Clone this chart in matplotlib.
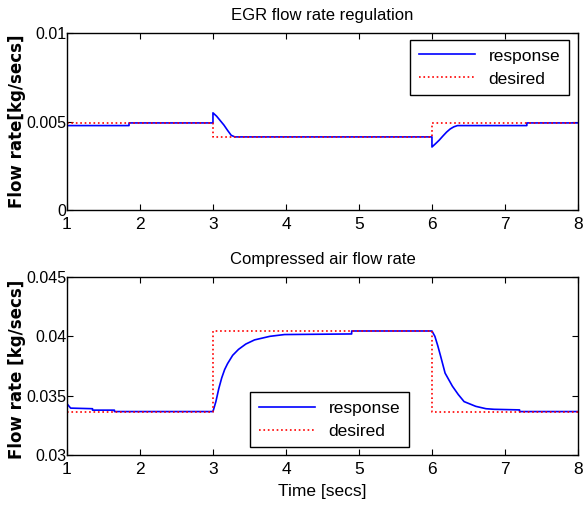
import matplotlib
matplotlib.use("Agg")
import matplotlib.pyplot as plt
from matplotlib import font_manager

names = {f.name for f in font_manager.fontManager.ttflist}
narrow = 'Liberation Sans Narrow' if 'Liberation Sans Narrow' in names else 'Liberation Sans'

# ---- data ----
egr_resp_t = [1.0, 1.85, 1.85, 3.0, 3.0, 3.05, 3.1, 3.15, 3.2, 3.25, 3.3, 6.0, 6.0, 6.05, 6.1,
              6.15, 6.2, 6.25, 6.3, 6.35, 7.3, 7.3, 8.0]
egr_resp_v = [0.00477, 0.00477, 0.00492, 0.00492, 0.00549, 0.00530, 0.00505, 0.00480, 0.00450,
              0.00422, 0.00413, 0.00413, 0.00356, 0.00375, 0.00395, 0.00418, 0.00440, 0.00458,
              0.00470, 0.00477, 0.00477, 0.00492, 0.00492]
egr_des_t = [1.0, 3.0, 3.0, 6.0, 6.0, 8.0]
egr_des_v = [0.00492, 0.00492, 0.00413, 0.00413, 0.00492, 0.00492]

air_resp_t = [1.0, 1.05, 1.35, 1.35, 1.65, 1.65, 3.0, 3.04, 3.08, 3.12, 3.16, 3.2, 3.27, 3.35,
              3.45, 3.57, 3.78, 3.98, 4.9, 4.9, 6.0, 6.04, 6.08, 6.12, 6.18, 6.28, 6.36, 6.44,
              6.6, 6.74, 6.85, 7.2, 7.2, 8.0]
air_resp_v = [0.03432, 0.03395, 0.03390, 0.03378, 0.03378, 0.03366, 0.03366, 0.03450, 0.03560,
              0.03650, 0.03720, 0.03770, 0.03840, 0.03890, 0.03935, 0.03970, 0.04000, 0.04015,
              0.04020, 0.04045, 0.04045, 0.04000, 0.03920, 0.03830, 0.03690, 0.03580, 0.03510,
              0.03450, 0.03410, 0.03390, 0.03385, 0.03380, 0.03366, 0.03366]
air_des_t = [1.0, 3.0, 3.0, 6.0, 6.0, 8.0]
air_des_v = [0.03366, 0.03366, 0.04045, 0.04045, 0.03366, 0.03366]

xticks = [1, 2, 3, 4, 5, 6, 7, 8]
egr_yticks = [0, 0.005, 0.01]
egr_ylabels = ['0', '0.005', '0.01']
air_yticks = [0.03, 0.035, 0.04, 0.045]
air_ylabels = ['0.03', '0.035', '0.04', '0.045']

fig = plt.figure(figsize=(5.88, 5.14), dpi=100)
ax1 = fig.add_axes([0.1139, 0.5914, 0.869, 0.3444])
ax2 = fig.add_axes([0.1139, 0.1148, 0.869, 0.3463])

tick_font = dict(family=narrow, size=11.5)

def style(ax, yticks, ylabels, ylim):
    ax.set_xlim(1, 8)
    ax.set_ylim(*ylim)
    ax.set_xticks(xticks)
    ax.set_xticklabels([str(x) for x in xticks], fontdict=dict(family=narrow, size=12.5))
    ax.set_yticks(yticks)
    ax.set_yticklabels(ylabels, fontdict=tick_font)
    ax.tick_params(axis='y', direction='in', length=4, width=0.8, pad=0.5, right=True,
                   labelright=False)
    ax.tick_params(axis='x', direction='in', length=4, width=0.8, pad=5, top=True,
                   labeltop=False)
    for s in ax.spines.values():
        s.set_linewidth(1.0)

ax1.plot(egr_resp_t, egr_resp_v, color='blue', lw=1.2, label='response')
ax1.plot(egr_des_t, egr_des_v, color='red', lw=1.2, ls=':', label='desired')
style(ax1, egr_yticks, egr_ylabels, (0, 0.01))
ax1.set_title('EGR flow rate regulation', family=narrow, fontsize=12, pad=9.5)
ax1.set_ylabel('Flow rate[kg/secs]', family='DejaVu Sans', fontweight='bold', fontsize=12)
ax1.yaxis.set_label_coords(-0.08, 0.5)
leg1 = ax1.legend(loc='upper left', bbox_to_anchor=(0.672, 0.962), borderaxespad=0,
                  prop=dict(family=narrow, size=12.5),
                  fancybox=False, framealpha=1, edgecolor='black', handlelength=3.2,
                  borderpad=0.5, labelspacing=0.45)
leg1.get_frame().set_linewidth(1.0)

ax2.plot(air_resp_t, air_resp_v, color='blue', lw=1.2, label='response')
ax2.plot(air_des_t, air_des_v, color='red', lw=1.2, ls=':', label='desired')
style(ax2, air_yticks, air_ylabels, (0.03, 0.045))
ax2.set_title('Compressed air flow rate', family=narrow, fontsize=12, pad=9.5)
ax2.set_ylabel('Flow rate [kg/secs]', family='DejaVu Sans', fontweight='bold', fontsize=12)
ax2.yaxis.set_label_coords(-0.08, 0.48)
ax2.set_xlabel('Time [secs]', family=narrow, fontsize=12.5, labelpad=5)
leg2 = ax2.legend(loc='upper left', bbox_to_anchor=(0.359, 0.354), borderaxespad=0,
                  prop=dict(family=narrow, size=12.5),
                  fancybox=False, framealpha=1, edgecolor='black', handlelength=3.2,
                  borderpad=0.5, labelspacing=0.45)
leg2.get_frame().set_linewidth(1.0)

fig.savefig('out.png', dpi=100)
